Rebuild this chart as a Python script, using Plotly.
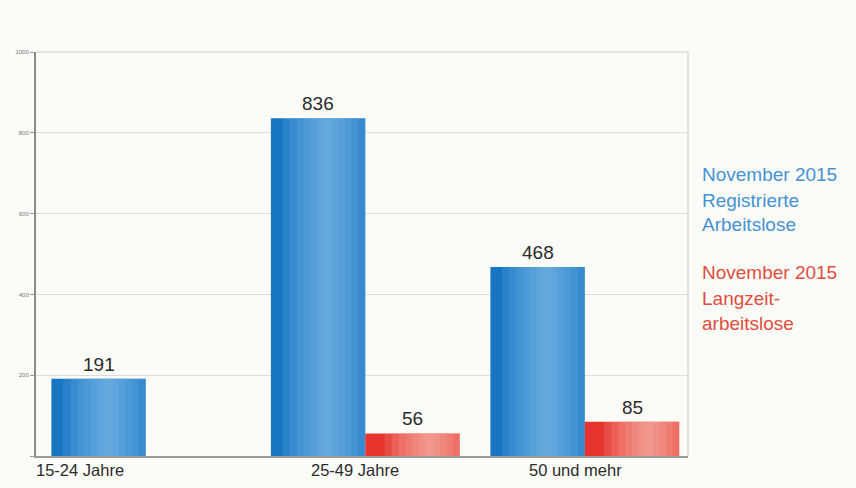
import plotly.graph_objects as go

# Arbeitslose nach Altersgruppen, November 2015
categories = ["15-24 Jahre", "25-49 Jahre", "50 und mehr"]
registrierte = [191, 836, 468]
langzeit = [None, 56, 85]
y_ticks = [0, 200, 400, 600, 800, 1000]
legend_blue = ["November 2015", "Registrierte", "Arbeitslose"]
legend_red = ["November 2015", "Langzeit-", "arbeitslose"]

BAR_W = 0.43
PX_PER_UNIT = 219.5
BLUE_BASE, BLUE_LIGHT = "#1775c4", "#80bdea"
RED_BASE, RED_LIGHT = "#e5352e", "#fbbdb3"
FONT = "Liberation Sans"

fig = go.Figure()


def gradient_bars(values, left, base, light, peak):
    """Solid bar plus stacked translucent strips to give a shaded cylinder look."""
    fig.add_trace(go.Bar(x=categories, y=values, width=BAR_W, offset=left,
                         marker=dict(color=base, line_width=0), hoverinfo="skip"))
    for frac in [0.95, 0.8, 0.65, 0.5, 0.36, 0.22, 0.1]:
        w = BAR_W * frac
        off = left + BAR_W * peak - w / 2
        off = max(off, left)
        w = min(w, left + BAR_W - off)
        fig.add_trace(go.Bar(x=categories, y=values, width=w, offset=off,
                             marker=dict(color=light, opacity=0.17, line_width=0),
                             hoverinfo="skip"))


gradient_bars(registrierte, -BAR_W, BLUE_BASE, BLUE_LIGHT, 0.6)
gradient_bars(langzeit, 0.0, RED_BASE, RED_LIGHT, 0.68)

# value labels above the bars
for series, sign in ((registrierte, -1), (langzeit, 1)):
    for i, v in enumerate(series):
        if v is None:
            continue
        fig.add_annotation(x=i, y=v, xshift=sign * BAR_W / 2 * PX_PER_UNIT, text=str(v),
                           showarrow=False, yanchor="bottom", yshift=2,
                           font=dict(family=FONT, size=19, color="#2b2b2b"))

# category labels below the axis
cat_shift = [-66, -10, -9]
for i, c in enumerate(categories):
    fig.add_annotation(x=i, y=0, yref="y", xshift=cat_shift[i], yshift=-14, text=c,
                       showarrow=False, yanchor="middle",
                       font=dict(family=FONT, size=16.5, color="#2b2b2b"))

# series captions at the right
blue_y = [0.698, 0.633, 0.572]
red_y = [0.455, 0.391, 0.327]
for t, yy in zip(legend_blue, blue_y):
    fig.add_annotation(xref="paper", yref="paper", x=1.018, y=yy,
                       xanchor="left", yanchor="middle", text=t, showarrow=False,
                       font=dict(family=FONT, size=19, color="#4592d5"))
for t, yy in zip(legend_red, red_y):
    fig.add_annotation(xref="paper", yref="paper", x=1.018, y=yy,
                       xanchor="left", yanchor="middle", text=t, showarrow=False,
                       font=dict(family=FONT, size=19, color="#e04d3e"))

fig.update_layout(
    width=856, height=488,
    margin=dict(l=36, r=168, t=52, b=32),
    barmode="overlay",
    showlegend=False,
    paper_bgcolor="#fbfbf7",
    plot_bgcolor="#fbfbf7",
    xaxis=dict(range=[-0.5, 2.47], showticklabels=False, ticks="", showgrid=False,
               showline=True, linecolor="#9a9a9a", linewidth=1.5, mirror=False,
               zeroline=False, fixedrange=True),
    yaxis=dict(range=[0, 1000], tickvals=y_ticks, ticktext=["", "200", "400", "600", "800", "1000"],
               tickfont=dict(family=FONT, size=6, color="#777"),
               showgrid=True, gridcolor="#dcdcdc", gridwidth=1,
               showline=True, linecolor="#8a8a8a", linewidth=2, ticks="outside",
               ticklen=4, tickcolor="#999", zeroline=False),
)
# frame on top and right
fig.add_shape(type="line", xref="paper", yref="paper", x0=1, x1=1, y0=0, y1=1,
              line=dict(color="#d8d8d8", width=1.5))
fig.add_shape(type="line", xref="paper", yref="paper", x0=0, x1=1, y0=1, y1=1,
              line=dict(color="#dedede", width=1.5))

fig.write_html("out.html")
